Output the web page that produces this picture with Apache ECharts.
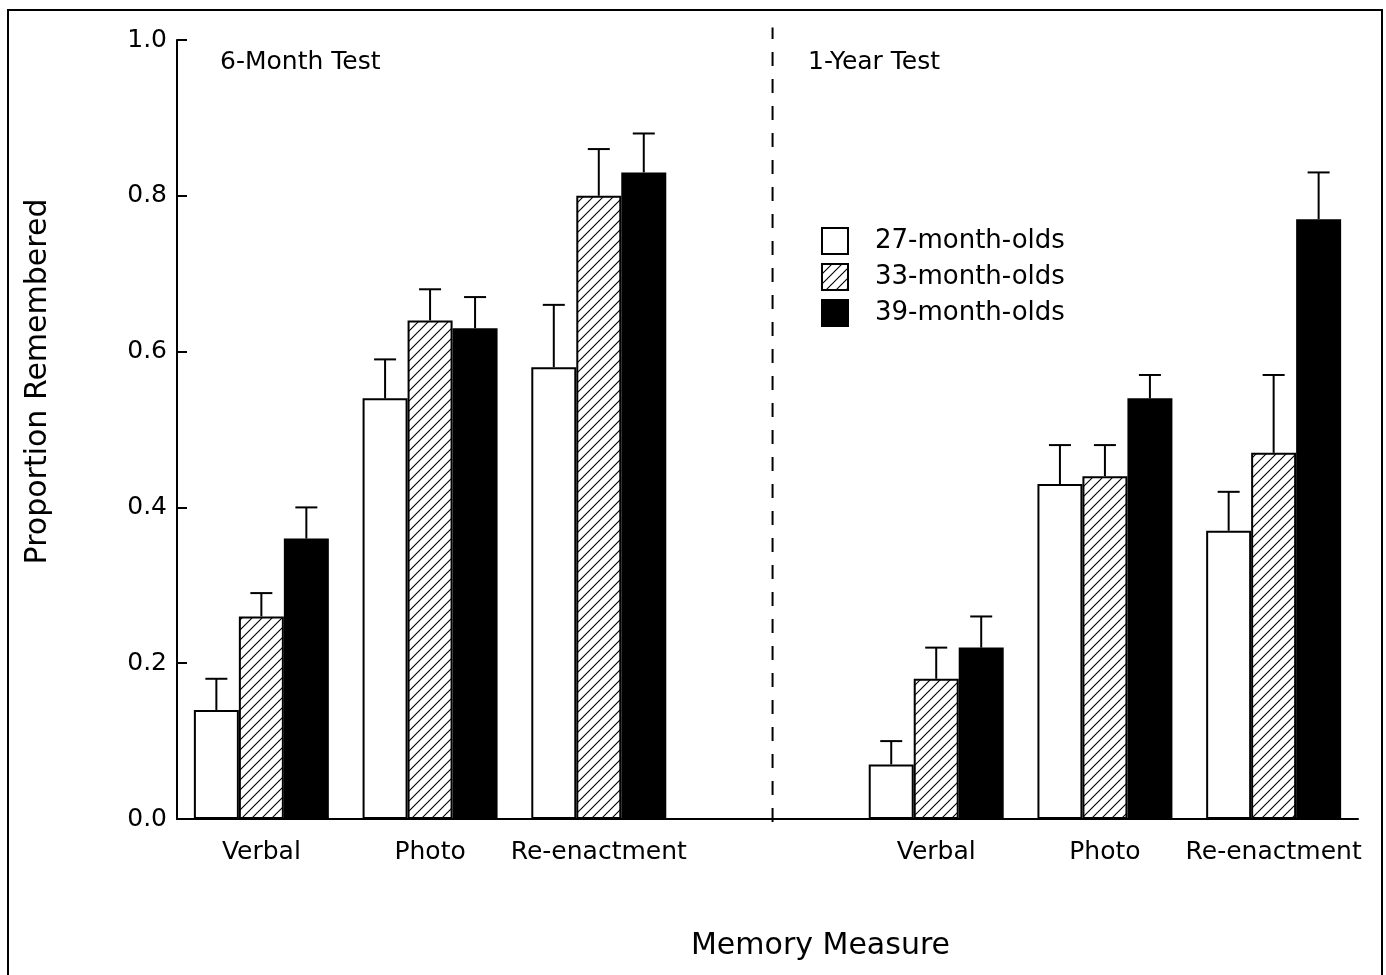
<!DOCTYPE html>
<html>
<head>
<meta charset="utf-8">
<script src="https://cdn.jsdelivr.net/npm/echarts@6/dist/echarts.min.js"></script>
<style>html,body{margin:0;padding:0;background:#fff}#c{width:1386px;height:975px}</style>
</head>
<body>
<div id="c"></div>
<script>
const categories = ['Verbal', 'Photo', 'Re-enactment', '', 'Verbal', 'Photo', 'Re-enactment'];
const seriesNames = ['27-month-olds', '33-month-olds', '39-month-olds'];
const m27 = [0.14, 0.54, 0.58, null, 0.07, 0.43, 0.37];
const m33 = [0.26, 0.64, 0.80, null, 0.18, 0.44, 0.47];
const m39 = [0.36, 0.63, 0.83, null, 0.22, 0.54, 0.77];
const err27 = [0.18, 0.59, 0.66, null, 0.10, 0.48, 0.42];
const err33 = [0.29, 0.68, 0.86, null, 0.22, 0.48, 0.57];
const err39 = [0.40, 0.67, 0.88, null, 0.26, 0.57, 0.83];
const yTicks = ['0.0', '0.2', '0.4', '0.6', '0.8', '1.0'];
const dividerX = 3.53;
const panelTitles = ['6-Month Test', '1-Year Test'];

const FONT = 'DejaVu Sans, Verdana, sans-serif';

// hatch pattern
const pc = document.createElement('canvas');
pc.width = 10; pc.height = 10;
const g = pc.getContext('2d');
g.fillStyle = '#fff'; g.fillRect(0, 0, 10, 10);
g.strokeStyle = '#000'; g.lineWidth = 1.1;
g.beginPath();
g.moveTo(0, 10); g.lineTo(10, 0);
g.moveTo(-5, 5); g.lineTo(5, -5);
g.moveTo(5, 15); g.lineTo(15, 5);
g.stroke();
const hatch = { image: pc, repeat: 'repeat' };

const fills = ['#fff', hatch, '#000'];
const vals = [m27, m33, m39];
const errs = [err27, err33, err39];

const chart = echarts.init(document.getElementById('c'));

const barSeries = vals.map((v, k) => ({
  name: seriesNames[k],
  type: 'bar',
  data: v,
  barGap: '0%',
  barCategoryGap: '20%',
  itemStyle: { color: fills[k], borderColor: '#000', borderWidth: 2 },
  emphasis: { disabled: true },
  z: 2
}));

const errSeries = errs.map((e, k) => ({
  type: 'custom',
  name: 'err' + k,
  xAxisIndex: 0,
  yAxisIndex: 0,
  z: 1,
  silent: true,
  data: e.map((t, i) => t == null ? null : [i, vals[k][i], t]).filter(d => d),
  renderItem: function (params, api) {
    const i = api.value(0);
    const base = api.coord([i, api.value(1)]);
    const top = api.coord([i, api.value(2)]);
    const band = api.size([1, 0])[0];
    const bw = band * 0.8 / 3;
    const x = base[0] + (k - 1) * bw;
    const capHalf = 11;
    return {
      type: 'group',
      children: [
        { type: 'line', shape: { x1: x, y1: base[1], x2: x, y2: top[1] }, style: { stroke: '#000', lineWidth: 2 } },
        { type: 'line', shape: { x1: x - capHalf, y1: top[1], x2: x + capHalf, y2: top[1] }, style: { stroke: '#000', lineWidth: 2 } }
      ]
    };
  }
}));

chart.setOption({
  animation: false,
  backgroundColor: '#fff',
  title: [
    { text: panelTitles[0], left: 215, top: 45, textStyle: { fontFamily: FONT, fontSize: 25, fontWeight: 'normal', color: '#000' } },
    { text: panelTitles[1], left: 803, top: 45, textStyle: { fontFamily: FONT, fontSize: 25, fontWeight: 'normal', color: '#000' } }
  ],
  legend: {
    orient: 'vertical',
    left: 821,
    top: 227,
    padding: 0,
    itemWidth: 26,
    itemHeight: 26,
    itemGap: 8,
    icon: 'rect',
    data: seriesNames,
    selectedMode: false,
    textStyle: { fontFamily: FONT, fontSize: 26, lineHeight: 26, color: '#000', padding: [0, 0, 0, 22] }
  },
  grid: { left: 177, right: 28, top: 40, bottom: 156, containLabel: false },
  xAxis: [
    {
      type: 'category',
      data: categories,
      name: 'Memory Measure',
      nameLocation: 'middle',
      nameGap: 112,
      nameTextStyle: { fontFamily: FONT, fontSize: 30, color: '#000', padding: [0, 0, 0, 106] },
      axisLine: { lineStyle: { color: '#000', width: 2 } },
      axisTick: { show: false },
      axisLabel: { fontFamily: FONT, fontSize: 25, color: '#000', margin: 21, interval: 0 },
      splitLine: { show: false }
    },
    { type: 'value', min: 0, max: 7, show: false }
  ],
  yAxis: {
    type: 'value',
    min: 0,
    max: 1,
    interval: 0.2,
    name: 'Proportion Remembered',
    nameLocation: 'middle',
    nameGap: 124,
    nameTextStyle: { fontFamily: FONT, fontSize: 30, color: '#000', padding: [0, 0, 0, 96] },
    axisLine: { show: true, lineStyle: { color: '#000', width: 2 } },
    axisTick: { show: true, inside: true, length: 10, lineStyle: { color: '#000', width: 2 } },
    axisLabel: { fontFamily: FONT, fontSize: 25, color: '#000', margin: 10, formatter: (v) => yTicks[Math.round(v / 0.2)] },
    splitLine: { show: false }
  },
  graphic: [
    { type: 'rect', shape: { x: 8, y: 10, width: 1374, height: 1000 }, style: { fill: 'none', stroke: '#000', lineWidth: 2 }, silent: true }
  ],
  series: barSeries.concat(errSeries).concat([{
    type: 'line',
    xAxisIndex: 1,
    yAxisIndex: 0,
    data: [[dividerX, -0.004], [dividerX, 1.016]],
    symbol: 'none',
    clip: false,
    silent: true,
    lineStyle: { color: '#000', width: 2, type: [14, 13] }
  }])
});
</script>
</body>
</html>
